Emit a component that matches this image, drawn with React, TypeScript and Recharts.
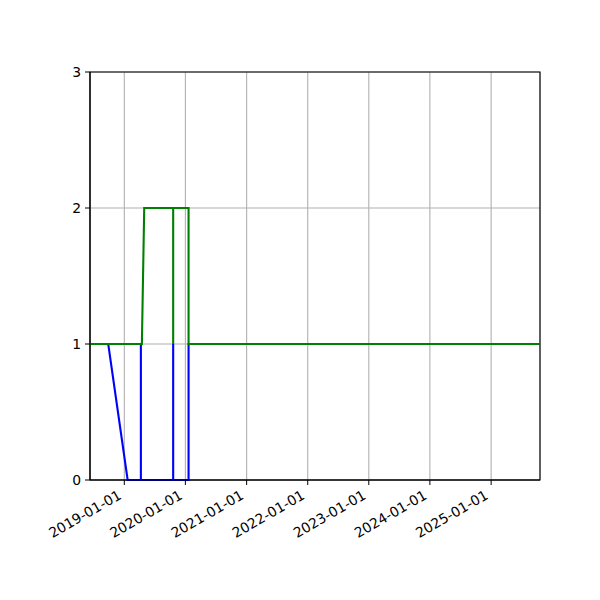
import { CartesianGrid, Line, LineChart, ReferenceArea, XAxis, YAxis } from 'recharts'

const blueDates = [
  '2018-06-10', '2018-09-27', '2019-01-21', '2019-04-10', '2019-04-10', '2019-04-10',
  '2019-10-20', '2019-10-20', '2019-10-20', '2020-01-20', '2020-01-20', '2025-10-20',
]
const blueValues = [1, 1, 0, 0, 1, 0, 0, 1, 0, 0, 1, 1]

const greenDates = [
  '2018-06-10', '2019-04-16', '2019-04-30', '2019-10-20', '2019-10-20', '2019-10-20',
  '2020-01-20', '2020-01-20', '2025-10-20',
]
const greenValues = [1, 1, 2, 2, 1, 2, 2, 1, 1]

const tickDates = [
  '2019-01-01', '2020-01-01', '2021-01-01', '2022-01-01', '2023-01-01', '2024-01-01', '2025-01-01',
]
const yTicks = [0, 1, 2, 3]

const toTime = (d: string) => Date.parse(d + 'T00:00:00Z')
const toPoints = (dates: string[], values: number[]) =>
  dates.map((d, i) => ({ t: toTime(d), v: values[i] }))

const blueData = toPoints(blueDates, blueValues)
const greenData = toPoints(greenDates, greenValues)
const xTicks = tickDates.map(toTime)
const xDomain = [toTime('2018-06-10'), toTime('2025-10-20')]

const fmt = (t: number) => new Date(t).toISOString().slice(0, 10)
const font = 'DejaVu Sans'

function DateTick({ x, y, payload }: any) {
  const px = x - 2
  const py = y + 11
  return (
    <text
      x={px}
      y={py}
      textAnchor="end"
      fontSize={13.9}
      fontFamily={font}
      fill="#000"
      transform={`rotate(-30, ${px}, ${py})`}
    >
      {fmt(payload.value)}
    </text>
  )
}

export default function App() {
  return (
    <div style={{ position: 'absolute', left: 0, top: 0, fontFamily: font }}>
      <LineChart width={600} height={600} margin={{ top: 72, right: 60, left: 40, bottom: 0 }}>
        <CartesianGrid stroke="#b0b0b0" strokeWidth={1.1} />
        <XAxis
          dataKey="t"
          type="number"
          domain={xDomain}
          ticks={xTicks}
          interval={0}
          allowDataOverflow
          height={120}
          stroke="#000"
          tickSize={5}
          tickMargin={2}
          tick={<DateTick />}
        />
        <YAxis
          type="number"
          domain={[0, 3]}
          ticks={yTicks}
          interval={0}
          width={50}
          stroke="#000"
          tickSize={5}
          tickMargin={4}
          tick={{ fontSize: 13.9, fill: '#000', fontFamily: font }}
        />
        <ReferenceArea
          x1={xDomain[0]}
          x2={xDomain[1]}
          y1={0}
          y2={3}
          fill="none"
          fillOpacity={0}
          stroke="#000"
          strokeWidth={1.1}
        />
        <Line
          data={blueData}
          dataKey="v"
          type="linear"
          stroke="#0000ff"
          strokeWidth={2.1}
          dot={false}
          isAnimationActive={false}
        />
        <Line
          data={greenData}
          dataKey="v"
          type="linear"
          stroke="#008000"
          strokeWidth={2.1}
          dot={false}
          isAnimationActive={false}
        />
      </LineChart>
    </div>
  )
}
